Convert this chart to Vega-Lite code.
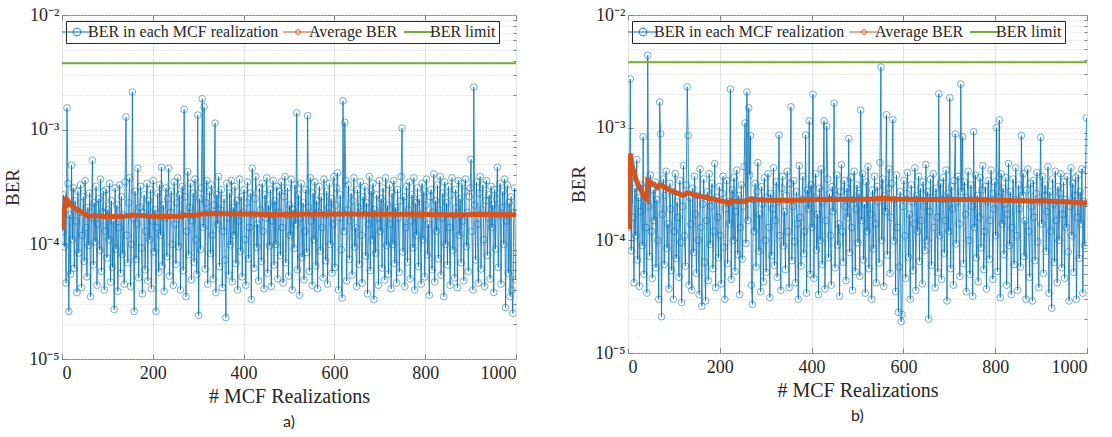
{
"$schema":"https://vega.github.io/schema/vega-lite/v6.json",
"padding":{"left":3,"top":5,"right":5,"bottom":3},
"spacing":51,
"background":"white",
"datasets":{
"a":[{"x":1,"y":1.3e-4},{"x":3,"y":2.7e-4},{"x":5,"y":9.5e-5},{"x":7,"y":2.2e-4},{"x":9,"y":4.6e-5},{"x":11,"y":1.55e-3},{"x":13,"y":3.4e-4},{"x":15,"y":2.6e-5},{"x":17,"y":1.8e-4},{"x":19,"y":5.5e-5},
{"x":21,"y":4.9e-4},{"x":23,"y":1.1e-4},{"x":25,"y":3.1e-4},{"x":27,"y":6.2e-5},{"x":29,"y":2.4e-4},{"x":31,"y":1.6e-4},{"x":33,"y":3.8e-5},{"x":35,"y":2.9e-4},{"x":37,"y":8.4e-5},{"x":39,"y":1.9e-4},
{"x":41,"y":3.3e-4},{"x":43,"y":4.2e-5},{"x":45,"y":1.2e-4},{"x":47,"y":2.6e-4},{"x":49,"y":7.1e-5},{"x":51,"y":3.6e-4},{"x":53,"y":1.4e-4},{"x":55,"y":5.2e-5},{"x":57,"y":2.1e-4},{"x":59,"y":9.8e-5},
{"x":61,"y":2.8e-4},{"x":63,"y":3.5e-5},{"x":65,"y":1.7e-4},{"x":67,"y":5.4e-4},{"x":69,"y":6.6e-5},{"x":71,"y":2.3e-4},{"x":73,"y":1.05e-4},{"x":75,"y":3.2e-4},{"x":77,"y":4.4e-5},{"x":79,"y":1.5e-4},
{"x":81,"y":2.5e-4},{"x":83,"y":8.9e-5},{"x":85,"y":3.7e-4},{"x":87,"y":5.8e-5},{"x":89,"y":1.9e-4},{"x":91,"y":2.9e-4},{"x":93,"y":4.0e-5},{"x":95,"y":1.3e-4},{"x":97,"y":3.0e-4},{"x":99,"y":7.6e-5},
{"x":101,"y":2.0e-4},{"x":103,"y":1.1e-4},{"x":105,"y":3.4e-4},{"x":107,"y":4.7e-5},{"x":109,"y":2.4e-4},{"x":111,"y":6.3e-5},{"x":113,"y":1.6e-4},{"x":115,"y":2.7e-5},{"x":117,"y":3.1e-4},{"x":119,"y":9.1e-5},
{"x":121,"y":2.2e-4},{"x":123,"y":3.9e-5},{"x":125,"y":1.4e-4},{"x":127,"y":3.3e-4},{"x":129,"y":5.6e-5},{"x":131,"y":2.6e-4},{"x":133,"y":8.2e-5},{"x":135,"y":1.8e-4},{"x":137,"y":4.5e-5},{"x":139,"y":3.5e-4},
{"x":141,"y":1.29e-3},{"x":143,"y":1.2e-4},{"x":145,"y":6.9e-5},{"x":147,"y":2.3e-4},{"x":149,"y":3.8e-4},{"x":151,"y":4.3e-5},{"x":153,"y":1.0e-4},{"x":155,"y":2.13e-3},{"x":157,"y":1.7e-4},{"x":159,"y":2.6e-5},
{"x":161,"y":2.9e-4},{"x":163,"y":7.4e-5},{"x":165,"y":1.5e-4},{"x":167,"y":4.6e-4},{"x":169,"y":5.1e-5},{"x":171,"y":2.1e-4},{"x":173,"y":3.2e-4},{"x":175,"y":9.3e-5},{"x":177,"y":3.7e-5},{"x":179,"y":1.9e-4},
{"x":181,"y":2.7e-4},{"x":183,"y":6.0e-5},{"x":185,"y":1.3e-4},{"x":187,"y":3.4e-4},{"x":189,"y":4.8e-5},{"x":191,"y":2.4e-4},{"x":193,"y":1.1e-4},{"x":195,"y":3.0e-4},{"x":197,"y":4.1e-5},{"x":199,"y":1.6e-4},
{"x":201,"y":3.6e-4},{"x":203,"y":8.6e-5},{"x":205,"y":2.0e-4},{"x":207,"y":2.6e-5},{"x":209,"y":1.4e-4},{"x":211,"y":2.8e-4},{"x":213,"y":5.7e-5},{"x":215,"y":3.3e-4},{"x":217,"y":1.2e-4},{"x":219,"y":4.7e-4},
{"x":221,"y":6.5e-5},{"x":223,"y":2.2e-4},{"x":225,"y":3.9e-5},{"x":227,"y":1.7e-4},{"x":229,"y":3.1e-4},{"x":231,"y":7.8e-5},{"x":233,"y":2.5e-4},{"x":235,"y":4.6e-4},{"x":237,"y":5.3e-5},{"x":239,"y":1.9e-4},
{"x":241,"y":2.9e-4},{"x":243,"y":1.0e-4},{"x":245,"y":4.4e-5},{"x":247,"y":3.5e-4},{"x":249,"y":1.5e-4},{"x":251,"y":6.7e-5},{"x":253,"y":2.3e-4},{"x":255,"y":3.8e-4},{"x":257,"y":9.6e-5},{"x":259,"y":2.7e-4},
{"x":261,"y":4.0e-5},{"x":263,"y":1.8e-4},{"x":265,"y":3.2e-4},{"x":267,"y":5.9e-5},{"x":269,"y":1.5e-3},{"x":271,"y":2.6e-4},{"x":273,"y":3.5e-5},{"x":275,"y":1.3e-4},{"x":277,"y":4.3e-4},{"x":279,"y":8.1e-5},
{"x":281,"y":2.1e-4},{"x":283,"y":3.4e-4},{"x":285,"y":4.9e-5},{"x":287,"y":1.6e-4},{"x":289,"y":2.8e-4},{"x":291,"y":7.0e-5},{"x":293,"y":3.7e-4},{"x":295,"y":1.1e-4},{"x":297,"y":5.5e-5},{"x":299,"y":1.34e-3},
{"x":301,"y":2.4e-5},{"x":303,"y":2.5e-4},{"x":305,"y":9.0e-5},{"x":307,"y":3.1e-4},{"x":309,"y":1.86e-3},{"x":311,"y":1.4e-4},{"x":313,"y":1.58e-3},{"x":315,"y":6.1e-5},{"x":317,"y":2.3e-4},{"x":319,"y":3.6e-4},
{"x":321,"y":4.5e-5},{"x":323,"y":1.9e-4},{"x":325,"y":2.9e-4},{"x":327,"y":8.3e-5},{"x":329,"y":3.3e-4},{"x":331,"y":1.2e-4},{"x":333,"y":5.0e-5},{"x":335,"y":2.2e-4},{"x":337,"y":1.14e-3},{"x":339,"y":3.8e-5},
{"x":341,"y":2.7e-4},{"x":343,"y":1.5e-4},{"x":345,"y":3.9e-4},{"x":347,"y":6.4e-5},{"x":349,"y":2.0e-4},{"x":351,"y":3.0e-4},{"x":353,"y":4.2e-5},{"x":355,"y":1.3e-4},{"x":357,"y":2.5e-4},{"x":359,"y":7.3e-5},
{"x":361,"y":2.3e-5},{"x":363,"y":3.4e-4},{"x":365,"y":1.7e-4},{"x":367,"y":5.4e-5},{"x":369,"y":2.8e-4},{"x":371,"y":9.9e-5},{"x":373,"y":3.6e-4},{"x":375,"y":4.7e-5},{"x":377,"y":2.1e-4},{"x":379,"y":1.2e-4},
{"x":381,"y":3.2e-4},{"x":383,"y":6.8e-5},{"x":385,"y":2.4e-4},{"x":387,"y":4.0e-5},{"x":389,"y":1.6e-4},{"x":391,"y":3.7e-4},{"x":393,"y":8.7e-5},{"x":395,"y":2.6e-4},{"x":397,"y":5.2e-5},{"x":399,"y":1.9e-4},
{"x":401,"y":3.0e-4},{"x":403,"y":1.1e-4},{"x":405,"y":4.4e-5},{"x":407,"y":2.3e-4},{"x":409,"y":3.5e-4},{"x":411,"y":7.5e-5},{"x":413,"y":1.4e-4},{"x":415,"y":2.8e-4},{"x":417,"y":3.3e-5},{"x":419,"y":4.6e-4},
{"x":421,"y":1.8e-4},{"x":423,"y":6.2e-5},{"x":425,"y":2.5e-4},{"x":427,"y":3.9e-4},{"x":429,"y":9.4e-5},{"x":431,"y":1.5e-4},{"x":433,"y":4.8e-5},{"x":435,"y":3.1e-4},{"x":437,"y":2.0e-4},{"x":439,"y":7.1e-5},
{"x":441,"y":3.4e-4},{"x":443,"y":1.3e-4},{"x":445,"y":4.1e-5},{"x":447,"y":2.7e-4},{"x":449,"y":1.7e-4},{"x":451,"y":3.8e-4},{"x":453,"y":5.6e-5},{"x":455,"y":2.2e-4},{"x":457,"y":9.7e-5},{"x":459,"y":3.0e-4},
{"x":461,"y":4.3e-5},{"x":463,"y":1.6e-4},{"x":465,"y":3.6e-4},{"x":467,"y":6.6e-5},{"x":469,"y":2.4e-4},{"x":471,"y":1.0e-4},{"x":473,"y":3.2e-4},{"x":475,"y":5.0e-5},{"x":477,"y":1.9e-4},{"x":479,"y":2.9e-4},
{"x":481,"y":8.0e-5},{"x":483,"y":3.5e-4},{"x":485,"y":1.4e-4},{"x":487,"y":4.6e-5},{"x":489,"y":2.6e-4},{"x":491,"y":3.9e-4},{"x":493,"y":6.9e-5},{"x":495,"y":1.8e-4},{"x":497,"y":3.1e-4},{"x":499,"y":5.3e-5},
{"x":501,"y":2.2e-4},{"x":503,"y":1.2e-4},{"x":505,"y":3.7e-4},{"x":507,"y":4.0e-5},{"x":509,"y":2.0e-4},{"x":511,"y":9.2e-5},{"x":513,"y":3.3e-4},{"x":515,"y":1.5e-4},{"x":517,"y":1.4e-3},{"x":519,"y":6.0e-5},
{"x":521,"y":2.7e-4},{"x":523,"y":3.6e-5},{"x":525,"y":1.7e-4},{"x":527,"y":3.4e-4},{"x":529,"y":7.7e-5},{"x":531,"y":2.3e-4},{"x":533,"y":4.9e-5},{"x":535,"y":1.3e-4},{"x":537,"y":3.0e-4},{"x":539,"y":8.5e-5},
{"x":541,"y":1.32e-3},{"x":543,"y":2.1e-4},{"x":545,"y":5.8e-5},{"x":547,"y":3.8e-4},{"x":549,"y":1.6e-4},{"x":551,"y":4.4e-5},{"x":553,"y":2.8e-4},{"x":555,"y":1.1e-4},{"x":557,"y":3.5e-4},{"x":559,"y":6.5e-5},
{"x":561,"y":2.4e-4},{"x":563,"y":4.1e-5},{"x":565,"y":1.9e-4},{"x":567,"y":3.2e-4},{"x":569,"y":8.8e-5},{"x":571,"y":2.6e-4},{"x":573,"y":1.4e-4},{"x":575,"y":5.1e-5},{"x":577,"y":3.7e-4},{"x":579,"y":1.8e-4},
{"x":581,"y":7.2e-5},{"x":583,"y":2.9e-4},{"x":585,"y":4.5e-5},{"x":587,"y":2.1e-4},{"x":589,"y":3.4e-4},{"x":591,"y":1.0e-4},{"x":593,"y":2.5e-4},{"x":595,"y":5.6e-5},{"x":597,"y":1.5e-4},{"x":599,"y":3.9e-4},
{"x":601,"y":6.3e-5},{"x":603,"y":2.2e-4},{"x":605,"y":3.1e-4},{"x":607,"y":4.2e-4},{"x":609,"y":4.0e-5},{"x":611,"y":1.7e-4},{"x":613,"y":2.7e-4},{"x":615,"y":9.0e-5},{"x":617,"y":3.4e-5},{"x":619,"y":1.78e-3},
{"x":621,"y":1.3e-4},{"x":623,"y":1.16e-3},{"x":625,"y":3.6e-4},{"x":627,"y":4.8e-5},{"x":629,"y":2.0e-4},{"x":631,"y":3.3e-4},{"x":633,"y":7.4e-5},{"x":635,"y":1.6e-4},{"x":637,"y":2.8e-4},{"x":639,"y":5.4e-5},
{"x":641,"y":2.4e-4},{"x":643,"y":3.8e-4},{"x":645,"y":9.5e-5},{"x":647,"y":1.4e-4},{"x":649,"y":4.3e-5},{"x":651,"y":3.0e-4},{"x":653,"y":2.1e-4},{"x":655,"y":6.7e-5},{"x":657,"y":3.5e-4},{"x":659,"y":1.2e-4},
{"x":661,"y":4.6e-5},{"x":663,"y":2.6e-4},{"x":665,"y":1.8e-4},{"x":667,"y":3.2e-4},{"x":669,"y":7.9e-5},{"x":671,"y":2.3e-4},{"x":673,"y":3.7e-5},{"x":675,"y":1.5e-4},{"x":677,"y":3.9e-4},{"x":679,"y":5.9e-5},
{"x":681,"y":2.9e-4},{"x":683,"y":1.1e-4},{"x":685,"y":3.4e-4},{"x":687,"y":3.3e-5},{"x":689,"y":2.0e-4},{"x":691,"y":8.4e-5},{"x":693,"y":2.7e-4},{"x":695,"y":1.7e-4},{"x":697,"y":4.4e-5},{"x":699,"y":3.6e-4},
{"x":701,"y":1.3e-4},{"x":703,"y":2.5e-4},{"x":705,"y":6.2e-5},{"x":707,"y":3.1e-4},{"x":709,"y":1.9e-4},{"x":711,"y":4.9e-5},{"x":713,"y":3.8e-4},{"x":715,"y":9.8e-5},{"x":717,"y":2.2e-4},{"x":719,"y":5.5e-5},
{"x":721,"y":3.3e-4},{"x":723,"y":1.5e-4},{"x":725,"y":4.1e-5},{"x":727,"y":2.8e-4},{"x":729,"y":1.0e-4},{"x":731,"y":3.6e-4},{"x":733,"y":6.8e-5},{"x":735,"y":2.1e-4},{"x":737,"y":4.6e-5},{"x":739,"y":3.0e-4},
{"x":741,"y":1.7e-4},{"x":743,"y":5.7e-5},{"x":745,"y":2.4e-4},{"x":747,"y":3.9e-4},{"x":749,"y":1.03e-3},{"x":751,"y":8.6e-5},{"x":753,"y":2.6e-4},{"x":755,"y":4.3e-5},{"x":757,"y":1.4e-4},{"x":759,"y":3.2e-4},
{"x":761,"y":7.0e-5},{"x":763,"y":2.0e-4},{"x":765,"y":3.5e-4},{"x":767,"y":5.0e-5},{"x":769,"y":1.6e-4},{"x":771,"y":2.7e-4},{"x":773,"y":9.3e-5},{"x":775,"y":3.8e-4},{"x":777,"y":4.0e-5},{"x":779,"y":2.3e-4},
{"x":781,"y":1.2e-4},{"x":783,"y":3.1e-4},{"x":785,"y":6.4e-5},{"x":787,"y":2.5e-4},{"x":789,"y":1.8e-4},{"x":791,"y":4.5e-5},{"x":793,"y":3.4e-4},{"x":795,"y":1.1e-4},{"x":797,"y":2.9e-4},{"x":799,"y":5.2e-5},
{"x":801,"y":2.2e-4},{"x":803,"y":3.7e-4},{"x":805,"y":8.1e-5},{"x":807,"y":1.5e-4},{"x":809,"y":3.6e-5},{"x":811,"y":2.6e-4},{"x":813,"y":3.0e-4},{"x":815,"y":6.0e-5},{"x":817,"y":1.9e-4},{"x":819,"y":4.1e-4},
{"x":821,"y":4.7e-5},{"x":823,"y":2.4e-4},{"x":825,"y":1.3e-4},{"x":827,"y":3.3e-4},{"x":829,"y":7.5e-5},{"x":831,"y":2.0e-4},{"x":833,"y":3.9e-4},{"x":835,"y":5.4e-5},{"x":837,"y":1.7e-4},{"x":839,"y":2.8e-4},
{"x":841,"y":3.5e-5},{"x":843,"y":3.5e-4},{"x":845,"y":1.0e-4},{"x":847,"y":2.3e-4},{"x":849,"y":6.6e-5},{"x":851,"y":3.2e-4},{"x":853,"y":1.4e-4},{"x":855,"y":4.4e-5},{"x":857,"y":2.7e-4},{"x":859,"y":3.8e-4},
{"x":861,"y":8.9e-5},{"x":863,"y":1.8e-4},{"x":865,"y":5.1e-5},{"x":867,"y":3.0e-4},{"x":869,"y":2.1e-4},{"x":871,"y":4.2e-5},{"x":873,"y":3.6e-4},{"x":875,"y":1.2e-4},{"x":877,"y":2.5e-4},{"x":879,"y":6.9e-5},
{"x":881,"y":3.4e-4},{"x":883,"y":1.6e-4},{"x":885,"y":4.8e-5},{"x":887,"y":2.9e-4},{"x":889,"y":3.7e-4},{"x":891,"y":9.6e-5},{"x":893,"y":1.9e-4},{"x":895,"y":5.8e-5},{"x":897,"y":2.6e-4},{"x":899,"y":3.1e-4},
{"x":901,"y":5.5e-4},{"x":903,"y":1.3e-4},{"x":905,"y":4.0e-5},{"x":907,"y":2.35e-3},{"x":909,"y":2.2e-4},{"x":911,"y":7.3e-5},{"x":913,"y":3.5e-4},{"x":915,"y":1.5e-4},{"x":917,"y":4.6e-5},{"x":919,"y":2.8e-4},
{"x":921,"y":3.9e-4},{"x":923,"y":6.1e-5},{"x":925,"y":2.0e-4},{"x":927,"y":3.3e-4},{"x":929,"y":1.1e-4},{"x":931,"y":4.3e-5},{"x":933,"y":2.4e-4},{"x":935,"y":3.6e-4},{"x":937,"y":8.0e-5},{"x":939,"y":1.7e-4},
{"x":941,"y":2.7e-4},{"x":943,"y":5.0e-5},{"x":945,"y":3.2e-4},{"x":947,"y":1.4e-4},{"x":949,"y":2.2e-4},{"x":951,"y":3.8e-5},{"x":953,"y":3.0e-4},{"x":955,"y":9.1e-5},{"x":957,"y":2.5e-4},{"x":959,"y":4.7e-4},
{"x":961,"y":6.3e-5},{"x":963,"y":1.8e-4},{"x":965,"y":3.4e-4},{"x":967,"y":4.5e-5},{"x":969,"y":2.1e-4},{"x":971,"y":2.9e-4},{"x":973,"y":1.0e-4},{"x":975,"y":3.7e-4},{"x":977,"y":2.8e-5},{"x":979,"y":1.6e-4},
{"x":981,"y":3.3e-4},{"x":983,"y":5.6e-5},{"x":985,"y":2.3e-4},{"x":987,"y":3.5e-5},{"x":989,"y":2.6e-4},{"x":991,"y":4.0e-5},{"x":993,"y":2.5e-5},{"x":995,"y":1.9e-4},{"x":997,"y":3.1e-4},{"x":999,"y":4.9e-5}],
"b":[{"x":1,"y":1.3e-4},{"x":3,"y":2.2e-4},{"x":5,"y":2.7e-3},{"x":7,"y":8.1e-5},{"x":9,"y":3.6e-4},{"x":11,"y":1.6e-4},{"x":13,"y":4.2e-5},{"x":15,"y":2.9e-4},{"x":17,"y":1.1e-4},{"x":19,"y":5.2e-4},
{"x":21,"y":6.7e-5},{"x":23,"y":2.4e-4},{"x":25,"y":3.9e-5},{"x":27,"y":1.8e-4},{"x":29,"y":3.1e-4},{"x":31,"y":9.0e-5},{"x":33,"y":8.3e-4},{"x":35,"y":5.0e-5},{"x":37,"y":2.6e-4},{"x":39,"y":1.3e-4},
{"x":41,"y":3.4e-5},{"x":43,"y":4.4e-3},{"x":45,"y":2.0e-4},{"x":47,"y":7.2e-5},{"x":49,"y":3.8e-4},{"x":51,"y":1.2e-4},{"x":53,"y":4.6e-5},{"x":55,"y":2.8e-4},{"x":57,"y":1.5e-4},{"x":59,"y":3.3e-4},
{"x":61,"y":5.7e-5},{"x":63,"y":2.3e-4},{"x":65,"y":1.0e-4},{"x":67,"y":3.0e-5},{"x":69,"y":1.69e-3},{"x":71,"y":8.8e-4},{"x":73,"y":2.1e-5},{"x":75,"y":1.7e-4},{"x":77,"y":3.5e-4},{"x":79,"y":6.1e-5},
{"x":81,"y":2.5e-4},{"x":83,"y":4.1e-4},{"x":85,"y":8.5e-5},{"x":87,"y":1.4e-4},{"x":89,"y":3.7e-5},{"x":91,"y":3.2e-4},{"x":93,"y":1.9e-4},{"x":95,"y":5.4e-5},{"x":97,"y":2.7e-4},{"x":99,"y":3.0e-5},
{"x":101,"y":1.2e-4},{"x":103,"y":3.9e-4},{"x":105,"y":6.9e-5},{"x":107,"y":2.2e-4},{"x":109,"y":1.6e-4},{"x":111,"y":4.7e-5},{"x":113,"y":3.4e-4},{"x":115,"y":9.6e-5},{"x":117,"y":2.8e-5},{"x":119,"y":2.0e-4},
{"x":121,"y":4.6e-4},{"x":123,"y":1.1e-4},{"x":125,"y":5.9e-5},{"x":127,"y":3.1e-4},{"x":129,"y":2.3e-3},{"x":131,"y":8.5e-4},{"x":133,"y":4.0e-5},{"x":135,"y":2.4e-4},{"x":137,"y":1.4e-4},{"x":139,"y":3.6e-5},
{"x":141,"y":2.9e-4},{"x":143,"y":7.8e-5},{"x":145,"y":3.7e-4},{"x":147,"y":1.7e-4},{"x":149,"y":5.1e-5},{"x":151,"y":2.5e-4},{"x":153,"y":1.0e-4},{"x":155,"y":3.3e-5},{"x":157,"y":4.3e-4},{"x":159,"y":1.3e-4},
{"x":161,"y":2.6e-5},{"x":163,"y":2.1e-4},{"x":165,"y":3.5e-4},{"x":167,"y":6.4e-5},{"x":169,"y":2.9e-5},{"x":171,"y":1.5e-4},{"x":173,"y":2.7e-4},{"x":175,"y":4.4e-5},{"x":177,"y":3.9e-4},{"x":179,"y":9.2e-5},
{"x":181,"y":2.0e-4},{"x":183,"y":3.2e-4},{"x":185,"y":5.6e-5},{"x":187,"y":1.2e-4},{"x":189,"y":4.8e-4},{"x":191,"y":3.8e-5},{"x":193,"y":2.4e-4},{"x":195,"y":1.6e-4},{"x":197,"y":7.0e-5},{"x":199,"y":3.0e-4},
{"x":201,"y":1.1e-4},{"x":203,"y":4.1e-5},{"x":205,"y":2.6e-4},{"x":207,"y":3.7e-4},{"x":209,"y":8.7e-5},{"x":211,"y":3.0e-5},{"x":213,"y":1.9e-4},{"x":215,"y":3.4e-4},{"x":217,"y":6.2e-5},{"x":219,"y":2.2e-4},
{"x":221,"y":1.4e-4},{"x":223,"y":2.2e-3},{"x":225,"y":4.5e-5},{"x":227,"y":2.8e-4},{"x":229,"y":1.0e-4},{"x":231,"y":3.6e-4},{"x":233,"y":5.3e-5},{"x":235,"y":1.8e-4},{"x":237,"y":4.2e-4},{"x":239,"y":7.5e-5},
{"x":241,"y":2.5e-4},{"x":243,"y":3.3e-5},{"x":245,"y":1.3e-4},{"x":247,"y":3.1e-4},{"x":249,"y":6.8e-5},{"x":251,"y":2.0e-4},{"x":253,"y":4.5e-4},{"x":255,"y":1.1e-3},{"x":257,"y":9.4e-5},{"x":259,"y":2.07e-3},
{"x":261,"y":1.5e-4},{"x":263,"y":1.5e-3},{"x":265,"y":3.8e-4},{"x":267,"y":8.5e-4},{"x":269,"y":4.0e-5},{"x":271,"y":2.7e-5},{"x":273,"y":2.3e-4},{"x":275,"y":1.2e-4},{"x":277,"y":3.2e-4},{"x":279,"y":5.8e-5},
{"x":281,"y":2.7e-4},{"x":283,"y":4.9e-4},{"x":285,"y":8.0e-5},{"x":287,"y":1.7e-4},{"x":289,"y":3.5e-5},{"x":291,"y":3.0e-4},{"x":293,"y":2.1e-4},{"x":295,"y":4.3e-5},{"x":297,"y":3.6e-4},{"x":299,"y":1.0e-4},
{"x":301,"y":5.2e-5},{"x":303,"y":2.4e-4},{"x":305,"y":3.9e-4},{"x":307,"y":1.3e-4},{"x":309,"y":3.1e-5},{"x":311,"y":2.6e-4},{"x":313,"y":7.3e-5},{"x":315,"y":1.9e-4},{"x":317,"y":4.4e-4},{"x":319,"y":6.0e-5},
{"x":321,"y":1.5e-4},{"x":323,"y":3.3e-4},{"x":325,"y":4.7e-5},{"x":327,"y":2.2e-4},{"x":329,"y":8.6e-4},{"x":331,"y":1.1e-4},{"x":333,"y":3.6e-5},{"x":335,"y":2.9e-4},{"x":337,"y":3.7e-4},{"x":339,"y":8.9e-5},
{"x":341,"y":1.8e-4},{"x":343,"y":5.5e-5},{"x":345,"y":2.5e-4},{"x":347,"y":4.1e-4},{"x":349,"y":1.2e-4},{"x":351,"y":3.8e-5},{"x":353,"y":3.2e-4},{"x":355,"y":1.53e-3},{"x":357,"y":6.6e-5},{"x":359,"y":2.0e-4},
{"x":361,"y":3.4e-4},{"x":363,"y":9.8e-5},{"x":365,"y":4.2e-5},{"x":367,"y":2.7e-4},{"x":369,"y":1.4e-4},{"x":371,"y":3.0e-5},{"x":373,"y":4.6e-4},{"x":375,"y":1.6e-4},{"x":377,"y":5.9e-5},{"x":379,"y":2.3e-4},
{"x":381,"y":3.7e-4},{"x":383,"y":7.6e-5},{"x":385,"y":1.2e-4},{"x":387,"y":8.6e-4},{"x":389,"y":3.4e-5},{"x":391,"y":2.8e-4},{"x":393,"y":1.9e-4},{"x":395,"y":1.15e-3},{"x":397,"y":5.0e-5},{"x":399,"y":3.1e-4},
{"x":401,"y":1.3e-4},{"x":403,"y":1.98e-3},{"x":405,"y":4.6e-5},{"x":407,"y":2.4e-4},{"x":409,"y":3.9e-4},{"x":411,"y":8.2e-5},{"x":413,"y":1.7e-4},{"x":415,"y":3.3e-5},{"x":417,"y":2.9e-4},{"x":419,"y":1.0e-4},
{"x":421,"y":4.3e-4},{"x":423,"y":6.1e-5},{"x":425,"y":2.2e-4},{"x":427,"y":1.15e-3},{"x":429,"y":3.7e-5},{"x":431,"y":1.5e-4},{"x":433,"y":1.03e-3},{"x":435,"y":3.5e-4},{"x":437,"y":7.0e-5},{"x":439,"y":2.6e-4},
{"x":441,"y":1.1e-4},{"x":443,"y":4.0e-5},{"x":445,"y":3.0e-4},{"x":447,"y":1.8e-4},{"x":449,"y":1.65e-3},{"x":451,"y":5.7e-5},{"x":453,"y":2.5e-4},{"x":455,"y":3.8e-4},{"x":457,"y":9.1e-5},{"x":459,"y":1.4e-4},
{"x":461,"y":3.2e-5},{"x":463,"y":2.7e-4},{"x":465,"y":4.7e-4},{"x":467,"y":1.2e-4},{"x":469,"y":6.4e-5},{"x":471,"y":3.4e-4},{"x":473,"y":2.0e-4},{"x":475,"y":4.4e-5},{"x":477,"y":2.9e-4},{"x":479,"y":1.6e-4},
{"x":481,"y":8.0e-4},{"x":483,"y":7.8e-5},{"x":485,"y":3.6e-4},{"x":487,"y":1.3e-4},{"x":489,"y":3.6e-5},{"x":491,"y":2.3e-4},{"x":493,"y":4.1e-4},{"x":495,"y":5.3e-5},{"x":497,"y":1.9e-4},{"x":499,"y":3.1e-4},
{"x":501,"y":9.5e-5},{"x":503,"y":2.6e-4},{"x":505,"y":4.8e-5},{"x":507,"y":1.43e-3},{"x":509,"y":1.5e-4},{"x":511,"y":3.9e-4},{"x":513,"y":6.7e-5},{"x":515,"y":2.1e-4},{"x":517,"y":3.4e-5},{"x":519,"y":3.3e-4},
{"x":521,"y":1.2e-4},{"x":523,"y":4.5e-4},{"x":525,"y":5.6e-5},{"x":527,"y":2.4e-4},{"x":529,"y":1.7e-4},{"x":531,"y":3.0e-5},{"x":533,"y":2.8e-4},{"x":535,"y":8.4e-5},{"x":537,"y":3.7e-4},{"x":539,"y":1.4e-4},
{"x":541,"y":4.2e-5},{"x":543,"y":3.0e-4},{"x":545,"y":2.2e-4},{"x":547,"y":6.3e-5},{"x":549,"y":4.9e-4},{"x":551,"y":3.45e-3},{"x":553,"y":1.0e-4},{"x":555,"y":3.5e-4},{"x":557,"y":3.9e-5},{"x":559,"y":2.5e-4},
{"x":561,"y":1.8e-4},{"x":563,"y":1.3e-3},{"x":565,"y":7.4e-5},{"x":567,"y":2.9e-4},{"x":569,"y":4.3e-4},{"x":571,"y":5.1e-5},{"x":573,"y":1.6e-4},{"x":575,"y":3.2e-4},{"x":577,"y":1.18e-3},{"x":579,"y":9.9e-5},
{"x":581,"y":2.3e-4},{"x":583,"y":3.5e-5},{"x":585,"y":3.8e-4},{"x":587,"y":1.3e-4},{"x":589,"y":2.3e-5},{"x":591,"y":5.8e-5},{"x":593,"y":2.7e-4},{"x":595,"y":1.9e-5},{"x":597,"y":2.2e-5},{"x":599,"y":2.0e-4},
{"x":601,"y":3.4e-4},{"x":603,"y":1.1e-4},{"x":605,"y":4.6e-5},{"x":607,"y":2.6e-4},{"x":609,"y":4.0e-4},{"x":611,"y":7.1e-5},{"x":613,"y":1.7e-4},{"x":615,"y":3.0e-5},{"x":617,"y":3.1e-4},{"x":619,"y":2.2e-4},
{"x":621,"y":5.4e-5},{"x":623,"y":1.4e-4},{"x":625,"y":4.4e-4},{"x":627,"y":3.6e-5},{"x":629,"y":2.5e-4},{"x":631,"y":1.2e-4},{"x":633,"y":3.7e-4},{"x":635,"y":6.5e-5},{"x":637,"y":2.9e-4},{"x":639,"y":1.5e-4},
{"x":641,"y":4.1e-5},{"x":643,"y":3.3e-4},{"x":645,"y":2.0e-4},{"x":647,"y":8.1e-5},{"x":649,"y":4.7e-4},{"x":651,"y":1.0e-4},{"x":653,"y":2.7e-4},{"x":655,"y":2.0e-5},{"x":657,"y":1.8e-4},{"x":659,"y":3.5e-4},
{"x":661,"y":6.0e-5},{"x":663,"y":2.4e-4},{"x":665,"y":3.9e-4},{"x":667,"y":1.3e-4},{"x":669,"y":3.8e-5},{"x":671,"y":2.9e-4},{"x":673,"y":1.6e-4},{"x":675,"y":5.2e-5},{"x":677,"y":2.0e-3},{"x":679,"y":1.1e-4},
{"x":681,"y":3.2e-4},{"x":683,"y":4.5e-5},{"x":685,"y":2.3e-4},{"x":687,"y":3.6e-4},{"x":689,"y":7.7e-5},{"x":691,"y":1.5e-4},{"x":693,"y":4.2e-4},{"x":695,"y":2.9e-5},{"x":697,"y":2.6e-4},{"x":699,"y":1.2e-4},
{"x":701,"y":1.84e-3},{"x":703,"y":5.6e-5},{"x":705,"y":3.0e-4},{"x":707,"y":1.9e-4},{"x":709,"y":4.0e-5},{"x":711,"y":3.4e-4},{"x":713,"y":8.8e-4},{"x":715,"y":9.3e-5},{"x":717,"y":2.2e-4},{"x":719,"y":3.7e-4},
{"x":721,"y":1.4e-4},{"x":723,"y":4.8e-5},{"x":725,"y":2.44e-3},{"x":727,"y":2.7e-4},{"x":729,"y":8.3e-4},{"x":731,"y":6.2e-5},{"x":733,"y":3.3e-4},{"x":735,"y":1.7e-4},{"x":737,"y":3.5e-5},{"x":739,"y":2.4e-4},
{"x":741,"y":4.1e-4},{"x":743,"y":1.0e-4},{"x":745,"y":5.0e-5},{"x":747,"y":3.1e-4},{"x":749,"y":2.0e-4},{"x":751,"y":3.2e-5},{"x":753,"y":9.2e-4},{"x":755,"y":1.3e-4},{"x":757,"y":3.8e-4},{"x":759,"y":7.0e-5},
{"x":761,"y":2.5e-4},{"x":763,"y":4.3e-5},{"x":765,"y":1.6e-4},{"x":767,"y":3.6e-4},{"x":769,"y":8.6e-5},{"x":771,"y":2.8e-4},{"x":773,"y":4.6e-4},{"x":775,"y":5.5e-5},{"x":777,"y":1.2e-4},{"x":779,"y":3.0e-4},
{"x":781,"y":3.7e-5},{"x":783,"y":2.2e-4},{"x":785,"y":3.4e-4},{"x":787,"y":6.8e-5},{"x":789,"y":1.5e-4},{"x":791,"y":4.2e-4},{"x":793,"y":2.6e-4},{"x":795,"y":4.5e-5},{"x":797,"y":1.9e-4},{"x":799,"y":3.3e-4},
{"x":801,"y":1.1e-4},{"x":803,"y":1.0e-3},{"x":805,"y":5.3e-5},{"x":807,"y":2.4e-4},{"x":809,"y":1.17e-3},{"x":811,"y":3.1e-5},{"x":813,"y":3.9e-4},{"x":815,"y":1.4e-4},{"x":817,"y":2.9e-4},{"x":819,"y":7.5e-5},
{"x":821,"y":2.1e-4},{"x":823,"y":3.6e-4},{"x":825,"y":4.0e-5},{"x":827,"y":1.7e-4},{"x":829,"y":4.8e-4},{"x":831,"y":9.0e-5},{"x":833,"y":2.7e-4},{"x":835,"y":3.3e-5},{"x":837,"y":1.3e-4},{"x":839,"y":3.5e-4},
{"x":841,"y":6.1e-5},{"x":843,"y":2.3e-4},{"x":845,"y":4.4e-4},{"x":847,"y":1.1e-4},{"x":849,"y":3.6e-5},{"x":851,"y":3.1e-4},{"x":853,"y":1.9e-4},{"x":855,"y":5.8e-5},{"x":857,"y":8.5e-4},{"x":859,"y":2.5e-4},
{"x":861,"y":3.9e-4},{"x":863,"y":7.2e-5},{"x":865,"y":1.5e-4},{"x":867,"y":3.0e-5},{"x":869,"y":2.8e-4},{"x":871,"y":4.3e-4},{"x":873,"y":1.2e-4},{"x":875,"y":4.7e-5},{"x":877,"y":3.2e-4},{"x":879,"y":2.0e-4},
{"x":881,"y":2.9e-5},{"x":883,"y":3.4e-4},{"x":885,"y":1.6e-4},{"x":887,"y":6.6e-5},{"x":889,"y":2.6e-4},{"x":891,"y":4.0e-4},{"x":893,"y":9.7e-5},{"x":895,"y":3.8e-5},{"x":897,"y":2.2e-4},{"x":899,"y":8.2e-4},
{"x":901,"y":1.4e-4},{"x":903,"y":3.7e-4},{"x":905,"y":5.1e-5},{"x":907,"y":2.5e-4},{"x":909,"y":3.1e-4},{"x":911,"y":8.0e-5},{"x":913,"y":1.8e-4},{"x":915,"y":4.5e-4},{"x":917,"y":3.4e-5},{"x":919,"y":2.7e-4},
{"x":921,"y":1.2e-4},{"x":923,"y":2.5e-5},{"x":925,"y":3.5e-4},{"x":927,"y":2.1e-4},{"x":929,"y":6.4e-5},{"x":931,"y":4.1e-4},{"x":933,"y":1.5e-4},{"x":935,"y":4.2e-5},{"x":937,"y":3.0e-4},{"x":939,"y":1.0e-4},
{"x":941,"y":2.6e-4},{"x":943,"y":3.9e-4},{"x":945,"y":5.7e-5},{"x":947,"y":1.7e-4},{"x":949,"y":3.3e-4},{"x":951,"y":4.6e-5},{"x":953,"y":2.3e-4},{"x":955,"y":1.3e-4},{"x":957,"y":3.7e-4},{"x":959,"y":7.9e-5},
{"x":961,"y":2.9e-5},{"x":963,"y":2.0e-4},{"x":965,"y":4.4e-4},{"x":967,"y":1.1e-4},{"x":969,"y":3.2e-4},{"x":971,"y":5.2e-5},{"x":973,"y":2.5e-4},{"x":975,"y":3.6e-4},{"x":977,"y":3.0e-5},{"x":979,"y":1.6e-4},
{"x":981,"y":3.8e-4},{"x":983,"y":6.9e-5},{"x":985,"y":2.7e-4},{"x":987,"y":1.4e-4},{"x":989,"y":4.3e-4},{"x":991,"y":3.4e-5},{"x":993,"y":2.2e-4},{"x":995,"y":9.0e-5},{"x":997,"y":4.2e-4},{"x":999,"y":1.22e-3}],
"avgA":[{"x":1,"y":1.35e-4},{"x":3,"y":1.6e-4},{"x":5,"y":2.0e-4},{"x":7,"y":2.2e-4},{"x":9,"y":2.1e-4},{"x":11,"y":2.45e-4},{"x":13,"y":2.4e-4},{"x":15,"y":2.3e-4},{"x":20,"y":2.2e-4},{"x":25,"y":2.1e-4},{"x":30,"y":2.05e-4},{"x":35,"y":2.0e-4},{"x":40,"y":1.95e-4},{"x":45,"y":1.9e-4},{"x":50,"y":1.85e-4},{"x":55,"y":1.78e-4},{"x":60,"y":1.76e-4},{"x":70,"y":1.78e-4},{"x":80,"y":1.77e-4},{"x":90,"y":1.75e-4},{"x":100,"y":1.76e-4},{"x":120,"y":1.75e-4},{"x":140,"y":1.77e-4},{"x":155,"y":1.8e-4},{"x":170,"y":1.78e-4},{"x":200,"y":1.76e-4},{"x":230,"y":1.75e-4},{"x":260,"y":1.76e-4},{"x":270,"y":1.79e-4},{"x":300,"y":1.8e-4},{"x":310,"y":1.85e-4},{"x":330,"y":1.86e-4},{"x":360,"y":1.85e-4},{"x":400,"y":1.84e-4},{"x":450,"y":1.82e-4},{"x":500,"y":1.81e-4},{"x":520,"y":1.83e-4},{"x":560,"y":1.83e-4},{"x":620,"y":1.84e-4},{"x":680,"y":1.83e-4},{"x":750,"y":1.83e-4},{"x":800,"y":1.82e-4},{"x":850,"y":1.81e-4},{"x":900,"y":1.81e-4},{"x":910,"y":1.83e-4},{"x":950,"y":1.82e-4},{"x":1000,"y":1.81e-4}],
"avgB":[{"x":1,"y":1.26e-4},{"x":3,"y":3.0e-4},{"x":5,"y":5.9e-4},{"x":7,"y":5.0e-4},{"x":9,"y":4.6e-4},{"x":11,"y":4.3e-4},{"x":13,"y":4.0e-4},{"x":15,"y":3.7e-4},{"x":18,"y":3.4e-4},{"x":21,"y":3.2e-4},{"x":25,"y":2.95e-4},{"x":28,"y":2.8e-4},{"x":31,"y":2.65e-4},{"x":35,"y":2.5e-4},{"x":39,"y":2.35e-4},{"x":42,"y":2.3e-4},{"x":43,"y":3.4e-4},{"x":46,"y":3.35e-4},{"x":50,"y":3.25e-4},{"x":55,"y":3.15e-4},{"x":60,"y":3.05e-4},{"x":65,"y":2.95e-4},{"x":69,"y":3.1e-4},{"x":72,"y":3.1e-4},{"x":80,"y":2.95e-4},{"x":90,"y":2.8e-4},{"x":100,"y":2.7e-4},{"x":110,"y":2.6e-4},{"x":120,"y":2.5e-4},{"x":129,"y":2.65e-4},{"x":135,"y":2.6e-4},{"x":150,"y":2.5e-4},{"x":170,"y":2.4e-4},{"x":190,"y":2.3e-4},{"x":210,"y":2.2e-4},{"x":222,"y":2.15e-4},{"x":224,"y":2.25e-4},{"x":240,"y":2.2e-4},{"x":259,"y":2.25e-4},{"x":266,"y":2.33e-4},{"x":280,"y":2.3e-4},{"x":300,"y":2.28e-4},{"x":350,"y":2.26e-4},{"x":400,"y":2.3e-4},{"x":450,"y":2.32e-4},{"x":500,"y":2.3e-4},{"x":551,"y":2.35e-4},{"x":600,"y":2.32e-4},{"x":650,"y":2.3e-4},{"x":700,"y":2.3e-4},{"x":750,"y":2.3e-4},{"x":800,"y":2.28e-4},{"x":850,"y":2.25e-4},{"x":900,"y":2.23e-4},{"x":950,"y":2.2e-4},{"x":1000,"y":2.15e-4}],
"lim":[{"y":3.8e-3}]
},
"hconcat":[
{"width":454,"height":344,
"title":{"text":"a)","orient":"bottom","font":"Lato","fontSize":16,"fontWeight":"normal","color":"#262626","offset":8},
"layer":[
{"data":{"name":"a"},"mark":{"type":"line","strokeWidth":0.8,"clip":true},
"encoding":{
"x":{"field":"x","type":"quantitative","scale":{"domain":[0,1000],"nice":false},"axis":{"orient":"bottom","values":[0,200,400,600,800,1000],"format":"d","title":"# MCF Realizations","labelFont":"Liberation Serif","titleFont":"Liberation Serif","labelFontSize":18,"titleFontSize":20,"titleFontWeight":"normal","grid":true,"gridColor":"#e2e2e2","tickSize":-5,"labelPadding":10,"titlePadding":4}},
"y":{"field":"y","type":"quantitative","scale":{"type":"log","domain":[1e-5,1e-2],"nice":false},"axis":{"orient":"left","values":[1e-5,1e-4,1e-3,1e-2],"labelExpr":"datum.value==0.01?'10⁻²':datum.value==0.001?'10⁻³':datum.value==0.0001?'10⁻⁴':'10⁻⁵'","title":"BER","labelFont":"Liberation Serif","titleFont":"Liberation Serif","labelFontSize":18,"titleFontSize":19,"titleFontWeight":"normal","grid":true,"gridColor":"#c8c8c8","gridDash":[1,2],"tickSize":-5,"labelPadding":8,"titlePadding":6}},
"color":{"datum":"BER in each MCF realization","type":"nominal","scale":{"domain":["BER in each MCF realization","Average BER","BER limit"],"range":["#0072BD","#D95319","#77AC30"]},
"legend":{"orient":"none","legendX":4,"legendY":6,"direction":"horizontal","title":null,"labelFont":"Liberation Serif","labelFontSize":16,"labelColor":"#262626","labelLimit":400,"symbolSize":900,"fillColor":"white","strokeColor":"#262626","padding":3,"columnPadding":2,"labelOffset":3,
"encode":{"symbols":{"update":{"shape":{"signal":"datum.value=='BER limit'?'M-1,0H1':datum.value=='Average BER'?'M-1,0H1M-0.16,0A0.16,0.16,0,1,1,0.16,0A0.16,0.16,0,1,1,-0.16,0':'M-1,0H1M-0.26,0A0.26,0.26,0,1,1,0.26,0A0.26,0.26,0,1,1,-0.26,0'"},"fill":{"value":"white"},"fillOpacity":{"value":1},"strokeWidth":{"signal":"datum.value=='BER limit'?2:1"}}}}}}
}},
{"data":{"name":"a"},"mark":{"type":"point","filled":false,"size":45,"strokeWidth":0.8,"clip":true},
"encoding":{"x":{"field":"x","type":"quantitative","axis":null},"y":{"field":"y","type":"quantitative","axis":null},"color":{"datum":"BER in each MCF realization","type":"nominal"}}},
{"data":{"name":"avgA"},"mark":{"type":"line","strokeWidth":5,"clip":true},
"encoding":{
"x":{"field":"x","type":"quantitative","axis":{"orient":"top","values":[0,200,400,600,800,1000],"labels":false,"grid":false,"tickSize":-5,"title":null}},
"y":{"field":"y","type":"quantitative","axis":{"orient":"right","values":[2e-5,3e-5,4e-5,5e-5,6e-5,7e-5,8e-5,9e-5,2e-4,3e-4,4e-4,5e-4,6e-4,7e-4,8e-4,9e-4,2e-3,3e-3,4e-3,5e-3,6e-3,7e-3,8e-3,9e-3],"labels":false,"grid":true,"gridColor":"#d4d4d4","gridDash":[1,2],"tickSize":-3,"title":null}},
"color":{"datum":"Average BER","type":"nominal"}}},
{"data":{"name":"lim"},"mark":{"type":"rule","strokeWidth":2},
"encoding":{"y":{"field":"y","type":"quantitative","axis":null},"color":{"datum":"BER limit","type":"nominal"}}}
],
"resolve":{"axis":{"x":"independent","y":"independent"}}
},
{"width":459,"height":338,
"title":{"text":"b)","orient":"bottom","font":"Lato","fontSize":16,"fontWeight":"normal","color":"#262626","offset":8},
"layer":[
{"data":{"name":"b"},"mark":{"type":"line","strokeWidth":0.8,"clip":true},
"encoding":{
"x":{"field":"x","type":"quantitative","scale":{"domain":[0,1000],"nice":false},"axis":{"orient":"bottom","values":[0,200,400,600,800,1000],"format":"d","title":"# MCF Realizations","labelFont":"Liberation Serif","titleFont":"Liberation Serif","labelFontSize":18,"titleFontSize":20,"titleFontWeight":"normal","grid":true,"gridColor":"#e2e2e2","tickSize":-5,"labelPadding":10,"titlePadding":4}},
"y":{"field":"y","type":"quantitative","scale":{"type":"log","domain":[1e-5,1e-2],"nice":false},"axis":{"orient":"left","values":[1e-5,1e-4,1e-3,1e-2],"labelExpr":"datum.value==0.01?'10⁻²':datum.value==0.001?'10⁻³':datum.value==0.0001?'10⁻⁴':'10⁻⁵'","title":"BER","labelFont":"Liberation Serif","titleFont":"Liberation Serif","labelFontSize":18,"titleFontSize":19,"titleFontWeight":"normal","grid":true,"gridColor":"#c8c8c8","gridDash":[1,2],"tickSize":-5,"labelPadding":8,"titlePadding":6}},
"color":{"datum":"BER in each MCF realization","type":"nominal","scale":{"domain":["BER in each MCF realization","Average BER","BER limit"],"range":["#0072BD","#D95319","#77AC30"]},
"legend":{"orient":"none","legendX":4,"legendY":6,"direction":"horizontal","title":null,"labelFont":"Liberation Serif","labelFontSize":16,"labelColor":"#262626","labelLimit":400,"symbolSize":900,"fillColor":"white","strokeColor":"#262626","padding":3,"columnPadding":2,"labelOffset":3,
"encode":{"symbols":{"update":{"shape":{"signal":"datum.value=='BER limit'?'M-1,0H1':datum.value=='Average BER'?'M-1,0H1M-0.16,0A0.16,0.16,0,1,1,0.16,0A0.16,0.16,0,1,1,-0.16,0':'M-1,0H1M-0.26,0A0.26,0.26,0,1,1,0.26,0A0.26,0.26,0,1,1,-0.26,0'"},"fill":{"value":"white"},"fillOpacity":{"value":1},"strokeWidth":{"signal":"datum.value=='BER limit'?2:1"}}}}}}
}},
{"data":{"name":"b"},"mark":{"type":"point","filled":false,"size":45,"strokeWidth":0.8,"clip":true},
"encoding":{"x":{"field":"x","type":"quantitative","axis":null},"y":{"field":"y","type":"quantitative","axis":null},"color":{"datum":"BER in each MCF realization","type":"nominal"}}},
{"data":{"name":"avgB"},"mark":{"type":"line","strokeWidth":5,"clip":true},
"encoding":{
"x":{"field":"x","type":"quantitative","axis":{"orient":"top","values":[0,200,400,600,800,1000],"labels":false,"grid":false,"tickSize":-5,"title":null}},
"y":{"field":"y","type":"quantitative","axis":{"orient":"right","values":[2e-5,3e-5,4e-5,5e-5,6e-5,7e-5,8e-5,9e-5,2e-4,3e-4,4e-4,5e-4,6e-4,7e-4,8e-4,9e-4,2e-3,3e-3,4e-3,5e-3,6e-3,7e-3,8e-3,9e-3],"labels":false,"grid":true,"gridColor":"#d4d4d4","gridDash":[1,2],"tickSize":-3,"title":null}},
"color":{"datum":"Average BER","type":"nominal"}}},
{"data":{"name":"lim"},"mark":{"type":"rule","strokeWidth":2},
"encoding":{"y":{"field":"y","type":"quantitative","axis":null},"color":{"datum":"BER limit","type":"nominal"}}}
],
"resolve":{"axis":{"x":"independent","y":"independent"}}
}
],
"resolve":{"scale":{"color":"independent"},"legend":{"color":"independent"}},
"config":{
"view":{"stroke":"#808080","strokeWidth":1},
"axis":{"labelFont":"Liberation Serif","titleFont":"Liberation Serif","labelFontSize":18,"titleFontSize":20,"labelColor":"#262626","titleColor":"#262626","titleFontWeight":"normal","domain":false,"tickColor":"#808080"}
}
}
